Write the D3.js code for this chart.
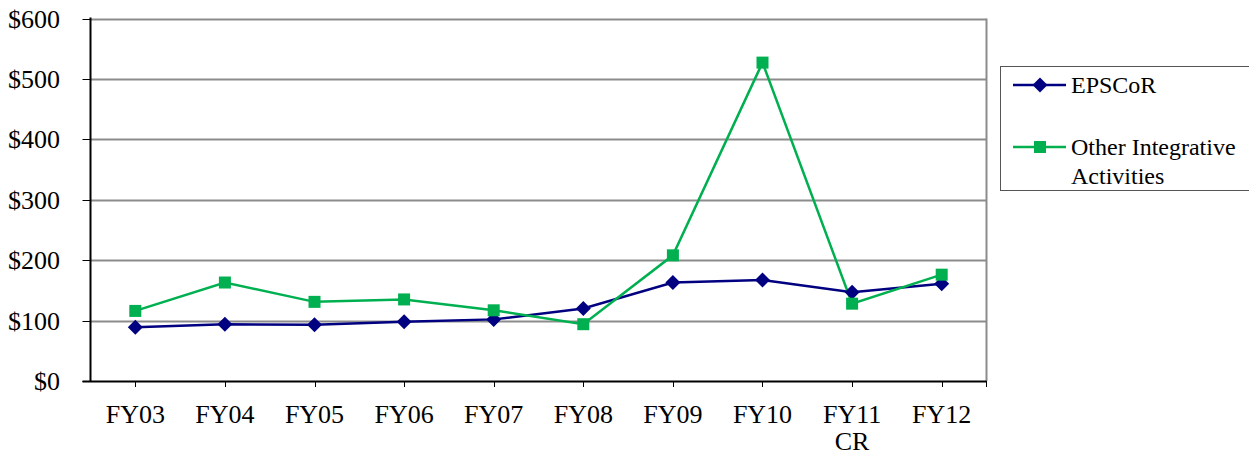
<!DOCTYPE html>
<html>
<head>
<meta charset="utf-8">
<script src="https://cdn.jsdelivr.net/npm/d3@7"></script>
<style>
  body { margin: 0; background: #fff; }
</style>
</head>
<body>
<svg id="chart" width="1249" height="455" font-family="'Times New Roman', 'Liberation Serif', Times, serif"></svg>
<script>
// data
const years = ['FY03', 'FY04', 'FY05', 'FY06', 'FY07', 'FY08', 'FY09', 'FY10', 'FY11\nCR', 'FY12'];
const epscor = [89, 94, 93, 98, 102, 120, 163, 167, 147, 161];
const otherIA = [116, 163, 131, 135, 117, 94, 208, 527, 128, 176];
const yTicks = [0, 100, 200, 300, 400, 500, 600];

const svg = d3.select('#chart');
const plotL = 90.5, plotR = 986.5, plotT = 18.5, plotB = 381;

const x = d3.scaleBand().domain(years).range([plotL, plotR]);
const y = d3.scaleLinear().domain([0, 600]).range([plotB, plotT]);
const cx = d => x(d) + x.bandwidth() / 2;

// grid lines
svg.selectAll('line.grid')
  .data(yTicks.slice(1))
  .enter()
  .append('line')
  .attr('x1', plotL).attr('x2', plotR)
  .attr('y1', d => Math.round(y(d)) + 0.5)
  .attr('y2', d => Math.round(y(d)) + 0.5)
  .style('stroke', '#8c8c8c')
  .style('stroke-width', 2);

// right border
svg.append('line')
  .attr('x1', plotR).attr('x2', plotR)
  .attr('y1', plotT).attr('y2', plotB)
  .style('stroke', '#8c8c8c')
  .style('stroke-width', 2);

// y axis
svg.append('line')
  .attr('x1', plotL).attr('x2', plotL)
  .attr('y1', plotT - 1).attr('y2', plotB + 1)
  .style('stroke', '#000').style('stroke-width', 2);

svg.selectAll('line.ytick')
  .data(yTicks)
  .enter()
  .append('line')
  .attr('x1', plotL - 8).attr('x2', plotL)
  .attr('y1', d => Math.round(y(d)) + 0.5)
  .attr('y2', d => Math.round(y(d)) + 0.5)
  .style('stroke', '#000').style('stroke-width', 1);

svg.selectAll('text.ylab')
  .data(yTicks)
  .enter()
  .append('text')
  .attr('x', 60)
  .attr('y', d => y(d) + 9)
  .attr('text-anchor', 'end')
  .style('font-size', '26px')
  .text(d => '$' + d);

// x axis
svg.append('line')
  .attr('x1', plotL - 8).attr('x2', plotR)
  .attr('y1', plotB + 0.5).attr('y2', plotB + 0.5)
  .style('stroke', '#000').style('stroke-width', 2);

svg.selectAll('line.xtick')
  .data(years)
  .enter()
  .append('line')
  .attr('x1', d => Math.round(cx(d)) + 0.5)
  .attr('x2', d => Math.round(cx(d)) + 0.5)
  .attr('y1', plotB).attr('y2', plotB + 6)
  .style('stroke', '#000').style('stroke-width', 1);

svg.append('line')
  .attr('x1', plotR).attr('x2', plotR)
  .attr('y1', plotB).attr('y2', plotB + 6)
  .style('stroke', '#000').style('stroke-width', 1);

const xl = svg.selectAll('text.xlab')
  .data(years)
  .enter()
  .append('text')
  .attr('text-anchor', 'middle')
  .style('font-size', '26px');

xl.selectAll('tspan')
  .data(d => d.split('\n').map((t, i) => ({ t, i, d })))
  .enter()
  .append('tspan')
  .attr('x', p => cx(p.d))
  .attr('y', p => 423 + p.i * 27)
  .text(p => p.t);

// series
const series = [
  { name: 'EPSCoR', values: epscor, color: '#000080', marker: 'diamond' },
  { name: 'Other Integrative Activities', values: otherIA, color: '#00B050', marker: 'square' }
];

const line = d3.line()
  .x((d, i) => cx(years[i]))
  .y(d => y(d));

function drawMarker(g, type, color) {
  if (type === 'diamond') {
    g.append('path')
      .attr('d', 'M0,-7.5L7.5,0L0,7.5L-7.5,0Z')
      .style('fill', color);
  } else {
    g.append('rect')
      .attr('x', -6).attr('y', -6)
      .attr('width', 12).attr('height', 12)
      .style('fill', color);
  }
}

series.forEach(s => {
  svg.append('path')
    .datum(s.values)
    .attr('d', line)
    .style('fill', 'none')
    .style('stroke', s.color)
    .style('stroke-width', 2.5);
});

series.forEach(s => {
  s.values.forEach((v, i) => {
    const g = svg.append('g')
      .attr('transform', `translate(${cx(years[i])},${y(v)})`);
    drawMarker(g, s.marker, s.color);
  });
});

// legend
svg.append('rect')
  .attr('x', 1000.5).attr('y', 66.5)
  .attr('width', 260).attr('height', 124)
  .style('fill', '#fff')
  .style('stroke', '#555')
  .style('stroke-width', 1);

const legendRows = [
  { s: series[0], y: 85, lines: ['EPSCoR'] },
  { s: series[1], y: 147, lines: ['Other Integrative', 'Activities'] }
];

legendRows.forEach(r => {
  svg.append('line')
    .attr('x1', 1013).attr('x2', 1066)
    .attr('y1', r.y).attr('y2', r.y)
    .style('stroke', r.s.color).style('stroke-width', 2.5);
  const g = svg.append('g').attr('transform', `translate(1040,${r.y})`);
  drawMarker(g, r.s.marker, r.s.color);
  r.lines.forEach((t, i) => {
    svg.append('text')
      .attr('x', 1071)
      .attr('y', r.y + 8 + i * 29)
      .style('font-size', '24px')
      .text(t);
  });
});
</script>
</body>
</html>
